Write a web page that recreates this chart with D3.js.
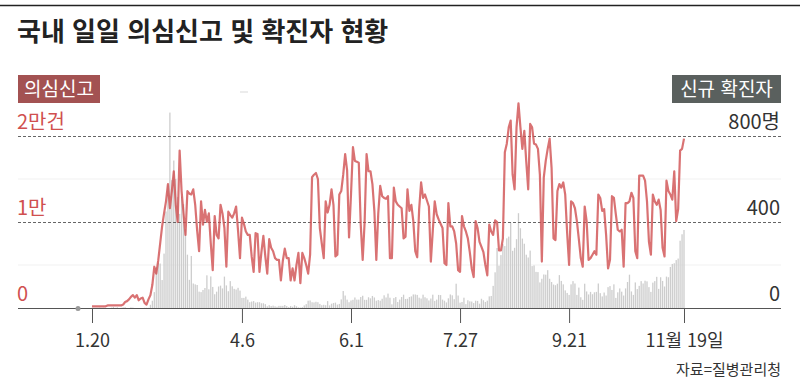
<!DOCTYPE html>
<html lang="ko">
<head>
    <meta charset="UTF-8">
    <title>국내 일일 의심신고 및 확진자 현황</title>
    <script src="https://d3js.org/d3.v7.min.js"></script>
    <style>
        body { margin: 0; background: #fff; }
        svg { display: block; font-family: "Noto Sans CJK KR", "Noto Sans", sans-serif; }
    </style>
</head>
<body>
    <div id="chart"></div>

    <script>
        // first day of the series, one value per day after it
        var startDay = "2020-01-20";

        // 의심신고 (건), daily
        var reports = [
            200,200,200,200,200,200,200,200,300,300,
            300,300,300,300,300,300,400,700,800,1000,
            1300,1500,1200,1500,900,1100,1200,600,400,1000,
            1500,2700,4800,4000,5500,7500,9500,11000,12400,14400,
            11600,13600,15900,12000,10000,18300,13600,11000,8500,13600,
            13300,13200,13800,12000,9000,6600,12400,9700,11400,10000,
            11000,7500,4400,10700,8500,8100,12000,11000,9300,4800,
            11200,10800,10500,11000,11800,9000,5800,10500,9800,8900,
            8500,8500,6000,4200,8700,8600,4200,6500,8400,6000,
            4000,8000,7000,6600,5800,5600,5600,3200,5500,6900,
            5800,5800,3200,4600,3200,5000,6400,2900,6400,5800,
            5000,4000,6200,15200,15500,15700,15000,9300,7500,5800,
            12400,11100,12000,13800,12000,6000,6200,13200,13600,15500,
            17900,16000,8200,13200,18700,17100,17000,16900,9700,5600,
            10000,17900,15900,15900,14400,11300,5600,11000,14200,13000,
            12800,12700,13000,5800,5800,14000,12400,12000,11800,11600,
            8100,8300,13800,11300,12000,10100,6600,5900,11500,14600,
            12800,13200,12500,11800,5400,9000,12400,10900,10300,9800,
            9300,5200,5000,12200,9500,9500,8900,7500,4400,4200,
            10700,9500,8900,8100,6500,4600,3600,10100,9300,7700,
            7100,6500,5000,3800,9700,8900,8500,10200,10000,6700,
            6700,8100,18100,19100,21000,21800,15500,13800,21000,23800,
            21000,18500,20600,17000,13800,21400,21000,19100,19000,18500,
            15500,5400,15200,17100,18500,19700,16300,8100,7900,13600,
            14400,14000,14600,13200,8700,5000,12400,12200,11600,10100,
            8000,5800,4800,11800,10100,5600,5800,6200,6600,6200,
            13200,12800,11300,11500,8500,4600,5600,13000,12800,10900,
            9100,8900,9100,4800,12200,12200,12400,13400,12800,6600,
            5800,15400,15400,15400,14800,12400,7700,6200,13200,12400,
            12000,12600,11400,7000,6000,14800,13600,13200,12600,15900,
            10100,11500,18300,18500,19700
        ];

        // 신규 확진자 (명), daily
        var cases = [
            1,0,0,0,1,0,1,1,0,0,
            2,5,1,3,0,1,3,4,0,0,
            3,2,0,0,0,0,0,1,1,1,
            15,34,74,190,210,207,130,253,449,571,
            909,595,686,600,516,438,518,483,367,248,
            131,242,114,110,107,76,74,84,93,152,
            87,147,98,64,76,100,104,91,146,105,
            78,125,101,89,86,94,81,47,47,53,
            39,27,30,32,25,27,27,22,22,18,
            8,13,9,11,8,6,10,10,10,14,
            9,4,9,6,13,8,3,2,4,12,
            18,34,35,27,26,29,27,19,13,15,
            13,32,12,20,23,25,16,19,40,79,
            58,39,27,35,38,49,39,39,51,57,
            38,38,50,45,56,49,34,37,34,43,
            59,49,67,48,17,46,51,28,39,51,
            62,42,43,51,54,63,63,61,48,44,
            62,50,45,35,44,62,33,39,61,60,
            39,34,26,45,63,59,41,113,58,25,
            28,48,18,36,31,30,23,34,33,20,
            43,36,28,34,54,56,103,166,279,197,
            246,297,288,324,332,397,266,280,320,441,
            371,323,299,248,235,267,195,198,168,167,
            119,136,156,155,176,136,121,109,106,113,
            153,126,110,82,70,61,110,125,114,61,
            95,50,38,113,77,
            63,75,64,73,75,114,69,54,72,58,
            97,102,84,110,47,73,91,76,58,91,
            121,155,77,61,119,88,103,125,114,127,124,
            97,75,118,125,145,89,143,126,100,146,
            143,191,205,208,223,230,313,343,363
        ];

        var tickDays = ["2020-01-20", "2020-04-06", "2020-06-01", "2020-07-27", "2020-09-21", "2020-11-19"];
        var tickLabels = ["1.20", "4.6", "6.1", "7.27", "9.21", "11월 19일"];

        var leftTicks = [0, 10000, 20000];
        var leftLabels = ["0", "1만", "2만건"];
        var rightTicks = [0, 400, 800];
        var rightLabels = ["0", "400", "800명"];
        var rightFaint = [200, 600];

        var width = 800, height = 381;
        var red = "#cf4f50";

        var parse = d3.utcParse("%Y-%m-%d");
        var start = parse(startDay);
        var dates = reports.map(function(d, i) { return d3.utcDay.offset(start, i); });

        var svg = d3.select("#chart")
            .append("svg")
            .attr("width", width)
            .attr("height", height);

        var x = d3.scaleUtc()
            .domain([start, dates[dates.length - 1]])
            .range([92, 684]);
        var yL = d3.scaleLinear().domain([0, 20000]).range([308, 136]);
        var yR = d3.scaleLinear().domain([0, 800]).range([308, 136]);

        // top rule + title
        svg.append("line")
            .attr("x1", 0).attr("x2", width)
            .attr("y1", 5.5).attr("y2", 5.5)
            .attr("stroke", "#222").attr("stroke-width", 1.5);
        svg.append("text")
            .attr("x", 17).attr("y", 41)
            .attr("font-size", 26).attr("font-weight", "bold")
            .attr("fill", "#222")
            .text("국내 일일 의심신고 및 확진자 현황");

        // faint grid lines of the right axis
        svg.selectAll(".faint")
            .data(rightFaint)
            .enter().append("line")
            .attr("x1", 18).attr("x2", 781)
            .attr("y1", function(d) { return yR(d); })
            .attr("y2", function(d) { return yR(d); })
            .attr("stroke", "#f1f1f1");

        // 확진자 bars
        svg.selectAll(".bar")
            .data(cases)
            .enter().append("rect")
            .attr("class", "bar")
            .attr("x", function(d, i) { return x(dates[i]) - 0.65; })
            .attr("width", 1.3)
            .attr("y", function(d) { return yR(d); })
            .attr("height", function(d) { return yR(0) - yR(d); })
            .attr("fill", "#cdcdcd");

        // dashed grid
        svg.selectAll(".grid")
            .data(leftTicks.slice(1))
            .enter().append("line")
            .attr("x1", 18).attr("x2", 781)
            .attr("y1", function(d) { return Math.round(yL(d)) + 0.5; })
            .attr("y2", function(d) { return Math.round(yL(d)) + 0.5; })
            .attr("stroke", "#666")
            .attr("stroke-dasharray", "3,2");

        // 의심신고 line
        var line = d3.line()
            .x(function(d, i) { return x(dates[i]); })
            .y(function(d) { return yL(d); });
        svg.append("path")
            .datum(reports)
            .attr("d", line)
            .attr("fill", "none")
            .attr("stroke", red)
            .attr("stroke-opacity", 0.8)
            .attr("stroke-width", 2.2)
            .attr("stroke-linejoin", "round");

        // x axis
        var xAxis = d3.axisBottom(x)
            .tickValues(tickDays.map(parse))
            .tickSize(15)
            .tickFormat(function(d, i) { return tickLabels[i]; });
        var gx = svg.append("g")
            .attr("transform", "translate(0,308)")
            .call(xAxis);
        gx.select(".domain").remove();
        gx.selectAll(".tick line").attr("stroke", "#555");
        gx.selectAll(".tick text")
            .attr("y", 26).attr("dy", "0.71em")
            .attr("font-size", 18).attr("fill", "#333")
            .attr("font-family", "\"Noto Sans CJK KR\", sans-serif");
        svg.append("line")
            .attr("x1", 18).attr("x2", 781)
            .attr("y1", 308.5).attr("y2", 308.5)
            .attr("stroke", "#555");

        svg.append("circle")
            .attr("cx", 78).attr("cy", 308.5).attr("r", 2.5)
            .attr("fill", "#999");
        svg.append("line")
            .attr("x1", 240).attr("x2", 248)
            .attr("y1", 92).attr("y2", 92)
            .attr("stroke", "#e6e6e6").attr("stroke-width", 1.5);

        // left labels
        svg.selectAll(".lLab")
            .data(leftTicks)
            .enter().append("text")
            .attr("x", 17)
            .attr("y", function(d) { return yL(d) - 7; })
            .attr("font-size", 20).attr("fill", "#d0504f")
            .text(function(d, i) { return leftLabels[i]; });

        // right labels
        svg.selectAll(".rLab")
            .data(rightTicks)
            .enter().append("text")
            .attr("x", 780)
            .attr("y", function(d) { return yR(d) - 7; })
            .attr("text-anchor", "end")
            .attr("font-size", 20).attr("fill", "#333")
            .text(function(d, i) { return rightLabels[i]; });

        // series tags
        svg.append("rect")
            .attr("x", 18).attr("y", 75).attr("width", 82).attr("height", 28)
            .attr("fill", "#a35252");
        svg.append("text")
            .attr("x", 59).attr("y", 96).attr("text-anchor", "middle")
            .attr("font-size", 19).attr("fill", "#fff")
            .text("의심신고");
        svg.append("rect")
            .attr("x", 672).attr("y", 75).attr("width", 109).attr("height", 28)
            .attr("fill", "#5a605e");
        svg.append("text")
            .attr("x", 726.5).attr("y", 96).attr("text-anchor", "middle")
            .attr("font-size", 19).attr("fill", "#fff")
            .text("신규 확진자");

        svg.append("text")
            .attr("x", 781).attr("y", 375)
            .attr("text-anchor", "end")
            .attr("font-size", 15).attr("fill", "#333")
            .text("자료=질병관리청");
    </script>
</body>
</html>
